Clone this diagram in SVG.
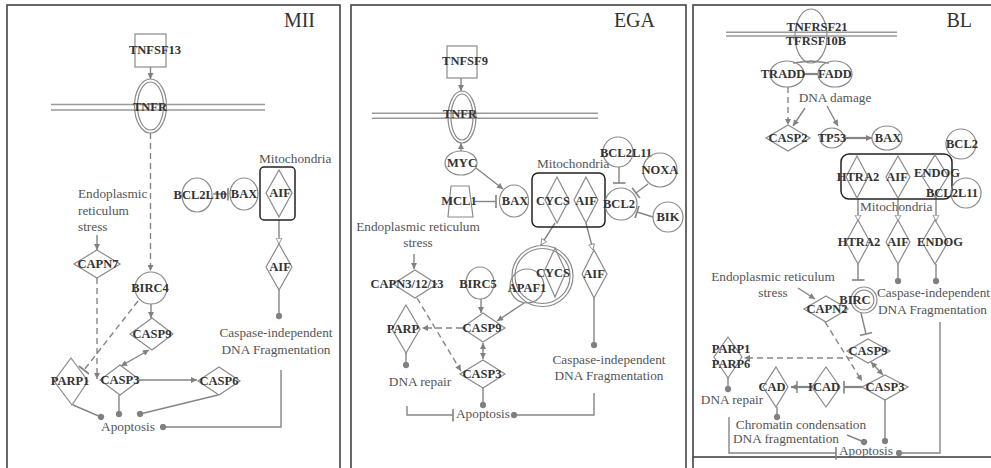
<svg xmlns="http://www.w3.org/2000/svg" width="991" height="468" viewBox="0 0 991 468">
<style>
.frame{fill:none;stroke:#444;stroke-width:1.6}
.title{font-family:"Liberation Serif",serif;font-size:20px;fill:#333;text-anchor:end}
.nd{fill:none;stroke:#8a8a8a;stroke-width:1.2}
.mito{fill:none;stroke:#222;stroke-width:1.5}
.mem{stroke:#999;stroke-width:1.5}
.t{font-family:"Liberation Serif",serif;font-size:12.5px;font-weight:bold;fill:#333;text-anchor:middle}
.lb{font-family:"Liberation Serif",serif;font-size:13.3px;fill:#555}
.c{fill:none;stroke:#858585;stroke-width:1.4}
.d{stroke-dasharray:6,4}
.thick{stroke-width:2.2}
</style>
<defs>
<marker id="arr" viewBox="0 0 10 10" refX="10" refY="5" markerWidth="7" markerHeight="6" orient="auto-start-reverse" markerUnits="userSpaceOnUse"><path d="M0,0 L10,5 L0,10 z" fill="#808080"/></marker>
<marker id="tri" viewBox="0 0 12 12" refX="11" refY="6" markerWidth="7" markerHeight="8" orient="auto" markerUnits="userSpaceOnUse"><path d="M1,1 L11,6 L1,11 z" fill="#fff" stroke="#858585" stroke-width="1.4"/></marker>
<marker id="bar" viewBox="0 0 4 14" refX="2" refY="7" markerWidth="4" markerHeight="13" orient="auto" markerUnits="userSpaceOnUse"><path d="M2,0 L2,14" stroke="#858585" stroke-width="1.8"/></marker>
<marker id="dot" viewBox="0 0 8 8" refX="4" refY="4" markerWidth="7" markerHeight="7" orient="auto" markerUnits="userSpaceOnUse"><circle cx="4" cy="4" r="3.6" fill="#808080"/></marker>
</defs>

<g id="frames">
<rect class="frame" x="7" y="5" width="333" height="475"/>
<rect class="frame" x="351" y="5" width="335" height="475"/>
<rect class="frame" x="693" y="5" width="340" height="452"/>
<line class="frame" x1="693" y1="457" x2="693" y2="468"/>
<text class="title" x="315" y="27">MII</text>
<text class="title" x="655" y="27">EGA</text>
<text class="title" x="972" y="27">BL</text>
</g>

<g id="membranes">
<line class="mem" x1="51" y1="104.5" x2="265" y2="104.5"/><line class="mem" x1="51" y1="110" x2="265" y2="110"/>
<line class="mem" x1="372" y1="113.3" x2="598" y2="113.3"/><line class="mem" x1="372" y1="118.3" x2="598" y2="118.3"/>
<line class="mem" x1="726" y1="32.3" x2="897" y2="32.3"/><line class="mem" x1="726" y1="36" x2="897" y2="36"/>
</g>

<g id="labels">
<text class="lb" x="78" y="198">Endoplasmic</text>
<text class="lb" x="78" y="214.5">reticulum</text>
<text class="lb" x="78" y="231">stress</text>
<text class="lb" x="259" y="163">Mitochondria</text>
<text class="lb" x="276" y="337" text-anchor="middle">Caspase-independent</text>
<text class="lb" x="276" y="354" text-anchor="middle">DNA Fragmentation</text>
<text class="lb" x="128" y="431" text-anchor="middle">Apoptosis</text>

<text class="lb" x="418" y="231" text-anchor="middle">Endoplasmic reticulum</text>
<text class="lb" x="418" y="247" text-anchor="middle">stress</text>
<text class="lb" x="537" y="168">Mitochondria</text>
<text class="lb" x="609" y="364" text-anchor="middle">Caspase-independent</text>
<text class="lb" x="609" y="380" text-anchor="middle">DNA Fragmentation</text>
<text class="lb" x="420" y="386" text-anchor="middle">DNA repair</text>
<text class="lb" x="456" y="418">Apoptosis</text>

<text class="lb" x="835" y="102" text-anchor="middle">DNA damage</text>
<text class="lb" x="860" y="211">Mitochondria</text>
<text class="lb" x="773" y="281" text-anchor="middle">Endoplasmic reticulum</text>
<text class="lb" x="773" y="297" text-anchor="middle">stress</text>
<text class="lb" x="877" y="297">Caspase-independent</text>
<text class="lb" x="878" y="314">DNA Fragmentation</text>
<text class="lb" x="732" y="404" text-anchor="middle">DNA repair</text>
<text class="lb" x="801" y="429" text-anchor="middle">Chromatin condensation</text>
<text class="lb" x="733" y="443">DNA fragmentation</text>
<text class="lb" x="839" y="455">Apoptosis</text>
</g>

<g id="connectors">
<!-- MII -->
<line class="c" x1="150.5" y1="67" x2="150.5" y2="79" marker-end="url(#arr)"/>
<line class="c d" x1="150.5" y1="133" x2="150.5" y2="271" marker-end="url(#arr)"/>
<line class="c" x1="97" y1="235" x2="97" y2="250" marker-end="url(#arr)"/>
<line class="c d" x1="97" y1="278" x2="97" y2="379" marker-end="url(#arr)"/>
<line class="c d" x1="138" y1="301" x2="84" y2="370" marker-end="url(#bar)"/>
<line class="c" x1="151" y1="304" x2="151" y2="318" marker-end="url(#arr)"/>
<line class="c" x1="149" y1="350" x2="121" y2="366" marker-start="url(#arr)" marker-end="url(#arr)"/>
<line class="c" x1="140" y1="380" x2="197" y2="380" marker-end="url(#arr)"/>
<line class="c" x1="73" y1="405" x2="101" y2="417" marker-end="url(#dot)"/>
<line class="c" x1="119" y1="395" x2="119" y2="414" marker-end="url(#dot)"/>
<line class="c" x1="218" y1="395" x2="140" y2="414" marker-end="url(#dot)"/>
<path class="c" d="M281,370 V427 H163" marker-end="url(#dot)"/>
<line class="c" x1="213" y1="194" x2="228" y2="194" marker-end="url(#bar)"/>
<line class="c" x1="279" y1="220" x2="279" y2="244" marker-end="url(#tri)"/>
<line class="c" x1="279" y1="290" x2="279" y2="316" marker-end="url(#dot)"/>
<!-- EGA -->
<line class="c" x1="461" y1="78" x2="461" y2="91" marker-end="url(#arr)"/>
<line class="c" x1="461" y1="151" x2="461" y2="143" marker-end="url(#arr)"/>
<line class="c" x1="476" y1="168" x2="503" y2="189" marker-end="url(#arr)"/>
<line class="c" x1="475" y1="201.5" x2="496" y2="201.5" marker-end="url(#bar)"/>
<line class="c" x1="619" y1="167" x2="619" y2="183" marker-end="url(#bar)"/>
<line class="c" x1="648" y1="184" x2="636" y2="193" marker-end="url(#bar)"/>
<line class="c" x1="653" y1="217" x2="637" y2="212" marker-end="url(#bar)"/>
<line class="c" x1="414" y1="254" x2="414" y2="269" marker-end="url(#arr)"/>
<line class="c" x1="481" y1="299" x2="481" y2="313" marker-end="url(#arr)"/>
<line class="c d" x1="462" y1="328" x2="422" y2="328" marker-end="url(#arr)"/>
<line class="c" x1="406" y1="353" x2="406" y2="365" marker-end="url(#dot)"/>
<line class="c d" x1="417" y1="298" x2="461" y2="371" marker-end="url(#arr)"/>
<line class="c" x1="555" y1="223" x2="541" y2="245" marker-end="url(#tri)"/>
<line class="c" x1="524" y1="303" x2="497" y2="321" marker-end="url(#arr)"/>
<line class="c" x1="586" y1="223" x2="593" y2="250" marker-end="url(#tri)"/>
<line class="c" x1="594" y1="298" x2="594" y2="345" marker-end="url(#dot)"/>
<line class="c" x1="483" y1="343" x2="483" y2="359" marker-start="url(#arr)" marker-end="url(#arr)"/>
<line class="c" x1="483" y1="388" x2="483" y2="405" marker-end="url(#dot)"/>
<path class="c" d="M407,406 V415 H453" marker-end="url(#bar)"/>
<path class="c" d="M594,393 V415 H514" marker-end="url(#dot)"/>
<!-- BL -->
<path class="c" d="M793,63 L811,61 L829,63"/>
<line class="c thick" x1="804" y1="74" x2="818" y2="74"/>
<line class="c d" x1="788" y1="87" x2="788" y2="125" marker-end="url(#arr)"/>
<line class="c" x1="805" y1="108" x2="793" y2="126" marker-end="url(#arr)"/>
<line class="c" x1="827" y1="106" x2="838" y2="126" marker-end="url(#arr)"/>
<line class="c thick" x1="844" y1="138" x2="872" y2="138" marker-end="url(#arr)"/>
<line class="c" x1="858" y1="198" x2="858" y2="221" marker-end="url(#tri)"/>
<line class="c" x1="898" y1="198" x2="898" y2="221" marker-end="url(#tri)"/>
<line class="c" x1="936" y1="197" x2="936" y2="221" marker-end="url(#tri)"/>
<line class="c" x1="858" y1="264" x2="858" y2="280" marker-end="url(#bar)"/>
<line class="c" x1="898" y1="264" x2="898" y2="281" marker-end="url(#dot)"/>
<line class="c" x1="936" y1="264" x2="936" y2="281" marker-end="url(#dot)"/>
<line class="c" x1="798" y1="288" x2="815" y2="299" marker-end="url(#arr)"/>
<line class="c" x1="861" y1="313" x2="866" y2="334" marker-end="url(#bar)"/>
<line class="c d" x1="853" y1="358" x2="744" y2="358" marker-end="url(#arr)"/>
<line class="c d" x1="825" y1="322" x2="862" y2="381" marker-end="url(#arr)"/>
<line class="c" x1="728" y1="378" x2="728" y2="389" marker-end="url(#dot)"/>
<line class="c thick" x1="812" y1="387" x2="791" y2="387" marker-end="url(#arr)"/>
<line class="c" x1="797" y1="381" x2="797" y2="393"/>
<line class="c thick" x1="862" y1="387" x2="844" y2="387" marker-end="url(#bar)"/>
<line class="c" x1="871" y1="362" x2="883" y2="375" marker-start="url(#arr)" marker-end="url(#arr)"/>
<line class="c" x1="885" y1="400" x2="885" y2="441" marker-end="url(#dot)"/>
<line class="c" x1="777" y1="407" x2="777" y2="417" marker-end="url(#dot)"/>
<line class="c" x1="847" y1="435" x2="864" y2="442" marker-end="url(#dot)"/>
<path class="c" d="M729,417 V453 H836" marker-end="url(#bar)"/>
<path class="c" d="M940,322 V453 H899" marker-end="url(#dot)"/>
</g>

<!-- MII nodes -->
<g id="mii-tnfsf13"><rect class="nd" x="135" y="34" width="31" height="33"/><text class="t" x="155" y="53.5">TNFSF13</text></g>
<g id="mii-tnfr"><ellipse class="nd" cx="150.5" cy="106" rx="16" ry="27"/><ellipse class="nd" cx="150.5" cy="106" rx="13" ry="24"/><text class="t" x="150" y="111">TNFR</text></g>
<g id="mii-birc4"><circle class="nd" cx="151" cy="288" r="16"/><text class="t" x="150" y="292">BIRC4</text></g>
<g id="mii-capn7"><polygon class="nd" points="97,250 120,264 97,278 74,264"/><text class="t" x="98" y="268">CAPN7</text></g>
<g id="mii-casp9"><polygon class="nd" points="152,318 173,334 152,350 130,334"/><text class="t" x="152" y="338">CASP9</text></g>
<g id="mii-casp3"><polygon class="nd" points="120,365 140,380 120,395 100,380"/><text class="t" x="120" y="384">CASP3</text></g>
<g id="mii-casp6"><polygon class="nd" points="219,367 240,381 219,395 198,381"/><text class="t" x="219" y="385">CASP6</text></g>
<g id="mii-parp1"><polygon class="nd" points="71,358 88,381 72,405 54,381"/><text class="t" x="70" y="385">PARP1</text></g>
<g id="mii-bcl2l10"><ellipse class="nd" cx="197" cy="195" rx="15" ry="17"/><text class="t" x="200" y="199">BCL2L10</text></g>
<g id="mii-bax"><ellipse class="nd" cx="244" cy="194" rx="14" ry="16"/><text class="t" x="244" y="198">BAX</text></g>
<g id="mii-mito"><rect class="mito" x="260" y="167" width="35" height="53" rx="4"/><polygon class="nd" points="279,170 292,193 279,217 266,193"/><text class="t" x="280" y="197">AIF</text></g>
<g id="mii-aif"><polygon class="nd" points="279,244 292,267 279,290 266,267"/><text class="t" x="280" y="271">AIF</text></g>

<!-- EGA nodes -->
<g id="ega-tnfsf9"><rect class="nd" x="447" y="46" width="30" height="32"/><text class="t" x="465" y="64.5">TNFSF9</text></g>
<g id="ega-tnfr"><ellipse class="nd" cx="462" cy="117" rx="14" ry="26"/><ellipse class="nd" cx="462" cy="117" rx="11" ry="23"/><text class="t" x="460" y="118">TNFR</text></g>
<g id="ega-myc"><ellipse class="nd" cx="461" cy="163" rx="16" ry="12"/><text class="t" x="462" y="167">MYC</text></g>
<g id="ega-mcl1"><polygon class="nd" points="451,186 469,186 473,217 448,217"/><text class="t" x="459" y="205">MCL1</text></g>
<g id="ega-bax"><ellipse class="nd" cx="514" cy="201" rx="14.5" ry="16"/><text class="t" x="515" y="205">BAX</text></g>
<g id="ega-mito"><rect class="mito" x="532" y="173" width="73" height="54" rx="6"/>
<polygon class="nd" points="557,177 569,200 557,223 545,200"/><text class="t" x="553" y="205">CYCS</text>
<polygon class="nd" points="586,177 598,200 586,223 574,200"/><text class="t" x="586" y="205">AIF</text></g>
<g id="ega-bcl2l11"><circle class="nd" cx="618" cy="152" r="15"/><text class="t" x="626" y="157">BCL2L11</text></g>
<g id="ega-noxa"><circle class="nd" cx="660" cy="170" r="17"/><text class="t" x="660" y="174">NOXA</text></g>
<g id="ega-bik"><circle class="nd" cx="668" cy="217" r="15"/><text class="t" x="668" y="221">BIK</text></g>
<g id="ega-bcl2"><circle class="nd" cx="621" cy="204" r="16"/><text class="t" x="619" y="208">BCL2</text></g>
<g id="ega-capn"><polygon class="nd" points="415,270 437,284 415,298 393,284"/><text class="t" x="407" y="288">CAPN3/12/13</text></g>
<g id="ega-birc5"><ellipse class="nd" cx="480" cy="283" rx="14" ry="16"/><text class="t" x="478" y="288">BIRC5</text></g>
<g id="ega-apoptosome"><circle class="nd" cx="542.5" cy="276" r="30.5"/><circle class="nd" cx="542.5" cy="276" r="27.5"/>
<circle class="nd" cx="527" cy="286" r="17"/><polygon class="nd" points="555,248 566,272 555,297 544,272"/>
<text class="t" x="553" y="277">CYCS</text><text class="t" x="527" y="292">APAF1</text></g>
<g id="ega-casp9"><polygon class="nd" points="483,313 505,328 483,342 462,328"/><text class="t" x="482" y="332">CASP9</text></g>
<g id="ega-parp"><polygon class="nd" points="406,305 420,329 406,353 392,329"/><text class="t" x="403" y="333">PARP</text></g>
<g id="ega-casp3"><polygon class="nd" points="483,360 505,374 483,388 460,374"/><text class="t" x="482" y="378">CASP3</text></g>
<g id="ega-aif"><polygon class="nd" points="594,250 607,274 594,298 582,274"/><text class="t" x="594" y="278">AIF</text></g>

<!-- BL nodes -->
<g id="bl-receptor"><ellipse class="nd" cx="811" cy="36" rx="16" ry="27"/><text class="t" x="817" y="31">TNFRSF21</text><text class="t" x="816" y="45">TFRSF10B</text></g>
<g id="bl-tradd"><ellipse class="nd" cx="787" cy="74" rx="17" ry="13"/><text class="t" x="783" y="78">TRADD</text></g>
<g id="bl-fadd"><ellipse class="nd" cx="835" cy="74" rx="17" ry="13"/><text class="t" x="835" y="78">FADD</text></g>
<g id="bl-casp2"><polygon class="nd" points="788,125 810,138 788,151 766,138"/><text class="t" x="788" y="142">CASP2</text></g>
<g id="bl-tp53"><ellipse class="nd" cx="832" cy="138" rx="12" ry="10"/><text class="t" x="832" y="142">TP53</text></g>
<g id="bl-bax"><ellipse class="nd" cx="887" cy="138" rx="15" ry="12"/><text class="t" x="888" y="142">BAX</text></g>
<g id="bl-bcl2"><circle class="nd" cx="961" cy="144" r="15"/><text class="t" x="962" y="148">BCL2</text></g>
<g id="bl-mito"><rect class="mito" x="841" y="154" width="111" height="45" rx="8"/>
<polygon class="nd" points="857,156 868,177 857,198 846,177"/><text class="t" x="858" y="181">HTRA2</text>
<polygon class="nd" points="898,156 910,177 898,198 886,177"/><text class="t" x="897" y="181">AIF</text>
<polygon class="nd" points="935,155 948,176 935,197 922,176"/><text class="t" x="937" y="177">ENDOG</text></g>
<g id="bl-bcl2l11"><circle class="nd" cx="966" cy="193" r="15"/><text class="t" x="952" y="197" text-anchor="start">BCL2L11</text></g>
<g id="bl-htra2"><polygon class="nd" points="858,220 870,242 858,264 846,242"/><text class="t" x="859" y="246">HTRA2</text></g>
<g id="bl-aif"><polygon class="nd" points="898,220 910,242 898,264 886,242"/><text class="t" x="898" y="246">AIF</text></g>
<g id="bl-endog"><polygon class="nd" points="935,220 948,242 935,264 922,242"/><text class="t" x="940" y="246">ENDOG</text></g>
<g id="bl-capn2"><polygon class="nd" points="826,296 848,309 826,322 804,309"/><text class="t" x="827" y="313">CAPN2</text></g>
<g id="bl-birc"><circle class="nd" cx="864" cy="300" r="13"/><circle class="nd" cx="864" cy="300" r="10"/><text class="t" x="855" y="304">BIRC</text></g>
<g id="bl-casp9"><polygon class="nd" points="868,339 890,351 868,363 847,351"/><text class="t" x="868" y="355">CASP9</text></g>
<g id="bl-parp"><polygon class="nd" points="728,337 742,357 728,378 714,357"/><text class="t" x="731" y="353">PARP1</text><text class="t" x="731" y="368">PARP6</text></g>
<g id="bl-cad"><polygon class="nd" points="776,367 788,387 776,407 763,387"/><text class="t" x="772" y="391">CAD</text></g>
<g id="bl-icad"><polygon class="nd" points="826,367 840,387 826,407 812,387"/><text class="t" x="824" y="391">ICAD</text></g>
<g id="bl-casp3"><polygon class="nd" points="885,375 908,387 885,400 862,387"/><text class="t" x="885" y="391">CASP3</text></g>
</svg>
